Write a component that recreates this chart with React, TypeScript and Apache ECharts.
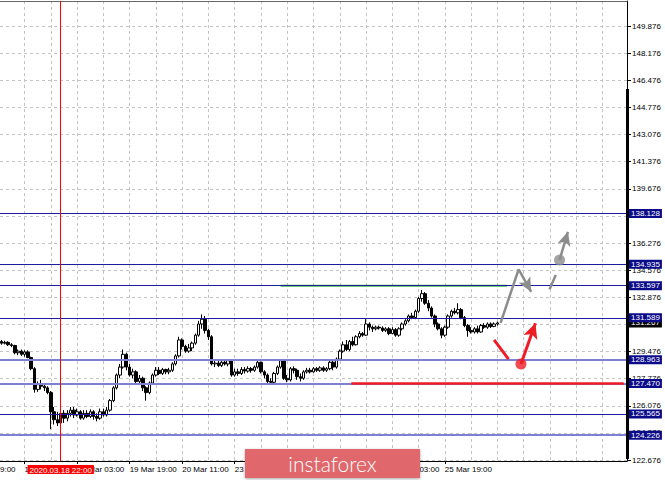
import React, { useEffect, useRef } from "react";
import * as echarts from "echarts";

// ---------- data ----------
const slotCount = 191; // hourly slots across the plot (incl. empty space on the right)
const timeLabels = [
  "18 Mar 11:00", "19 Mar 03:00", "19 Mar 19:00", "20 Mar 11:00", "23 Mar 03:00",
  "23 Mar 19:00", "24 Mar 11:00", "25 Mar 03:00", "25 Mar 19:00",
];
const timeLabelSlots = [7, 23, 39, 55, 71, 87, 103, 119, 135];
const gridSlots = [7, 15, 23, 31, 39, 47, 55, 63, 71, 79, 87, 95, 103, 111, 119, 127, 135, 143, 151, 159, 167, 175, 183];

const priceTicks = [
  122.676, 124.376, 126.076, 127.776, 129.476, 131.176, 132.876, 134.576, 136.276,
  137.976, 139.676, 141.376, 143.076, 144.776, 146.476, 148.176, 149.876,
];
const darkLevels = [138.128, 134.935, 133.597, 131.589, 125.565];
const lightLevels = [128.963, 127.47, 124.226];
const currentPrice = 131.267;
const markerSlot = 18;
const markerText = "2020.03.18 22:00";

// [open, close, low, high]
const candles: number[][] = [
  [130.1, 130.0, 129.9, 130.2], [130.0, 130.05, 129.92, 130.15], [130.05, 129.9, 129.82, 130.12], [129.9, 129.85, 129.75, 130.0],
  [129.85, 129.4, 129.3, 129.9], [129.4, 129.5, 129.25, 129.6], [129.5, 129.3, 129.2, 129.6], [129.3, 129.45, 129.15, 129.55],
  [129.45, 129.1, 129.05, 129.55], [129.1, 128.4, 128.3, 129.15], [128.4, 127.1, 126.9, 128.5], [127.1, 127.4, 126.95, 127.6],
  [127.4, 127.3, 127.1, 127.7], [127.3, 127.2, 127.0, 127.5], [127.2, 126.9, 126.8, 127.3], [126.9, 125.7, 124.6, 127.0],
  [125.7, 125.2, 124.9, 126.0], [125.2, 125.0, 124.8, 125.7], [125.0, 125.6, 124.25, 125.8], [125.6, 125.3, 125.0, 125.8],
  [125.3, 125.6, 125.1, 125.8], [125.6, 125.8, 125.4, 126.0], [125.8, 125.5, 125.3, 126.0], [125.5, 125.7, 125.4, 125.9],
  [125.7, 125.3, 125.2, 125.8], [125.3, 125.6, 125.2, 125.8], [125.6, 125.4, 125.3, 125.8], [125.4, 125.7, 125.3, 125.85],
  [125.7, 125.4, 125.2, 125.8], [125.4, 125.3, 125.1, 125.6], [125.3, 125.7, 125.2, 125.9], [125.7, 125.5, 125.4, 125.9],
  [125.5, 125.8, 125.4, 126.0], [125.8, 126.4, 125.7, 126.5], [126.4, 127.2, 126.3, 127.3], [127.2, 128.0, 127.1, 128.1],
  [128.0, 128.5, 127.8, 128.7], [128.5, 129.3, 128.4, 129.6], [129.3, 128.5, 128.3, 129.4], [128.5, 128.0, 127.9, 128.7],
  [128.0, 128.2, 127.8, 128.4], [128.2, 127.6, 127.5, 128.3], [127.6, 127.8, 127.4, 128.0], [127.8, 127.2, 127.0, 127.9],
  [127.2, 126.9, 126.4, 127.3], [126.9, 127.5, 126.8, 127.6], [127.5, 128.0, 127.4, 128.1], [128.0, 128.3, 127.9, 128.5],
  [128.3, 128.1, 128.0, 128.5], [128.1, 128.35, 128.0, 128.45], [128.35, 128.2, 128.05, 128.4], [128.2, 128.3, 128.05, 128.45],
  [128.3, 128.7, 128.2, 128.8], [128.7, 129.2, 128.6, 129.3], [129.2, 130.2, 129.1, 130.4], [130.2, 129.8, 129.6, 130.3],
  [129.8, 129.5, 129.4, 129.9], [129.5, 129.7, 129.4, 129.95], [129.7, 130.0, 129.5, 130.1], [130.0, 130.5, 129.9, 130.6],
  [130.5, 131.2, 130.4, 131.4], [131.2, 131.5, 130.9, 131.8], [131.5, 130.8, 130.6, 131.7], [130.8, 130.4, 130.2, 130.9],
  [130.4, 128.7, 128.6, 130.5], [128.7, 128.75, 128.5, 128.9], [128.75, 128.6, 128.5, 128.9], [128.6, 128.8, 128.5, 128.9],
  [128.8, 128.7, 128.6, 128.9], [128.7, 128.9, 128.55, 129.0], [128.9, 128.0, 127.9, 128.95], [128.0, 128.2, 127.9, 128.4],
  [128.2, 128.1, 127.95, 128.4], [128.1, 128.35, 128.0, 128.5], [128.35, 128.25, 128.1, 128.5], [128.25, 128.4, 128.15, 128.55],
  [128.4, 128.3, 128.15, 128.5], [128.3, 128.5, 128.2, 128.6], [128.5, 128.8, 128.4, 128.9], [128.8, 128.2, 128.1, 128.85],
  [128.2, 128.0, 127.8, 128.3], [128.0, 127.6, 127.5, 128.1], [127.6, 127.55, 127.4, 127.8], [127.55, 128.1, 127.5, 128.2],
  [128.1, 128.5, 128.0, 128.6], [128.5, 128.9, 128.4, 129.0], [128.9, 127.8, 127.7, 128.95], [127.8, 127.7, 127.55, 128.0],
  [127.7, 128.4, 127.6, 128.5], [128.4, 128.3, 128.1, 128.55], [128.3, 127.9, 127.7, 128.4], [127.9, 127.8, 127.6, 128.1],
  [127.8, 128.2, 127.7, 128.3], [128.2, 128.3, 128.1, 128.45], [128.3, 128.2, 128.1, 128.45], [128.2, 128.4, 128.15, 128.5],
  [128.4, 128.3, 128.2, 128.5], [128.3, 128.45, 128.2, 128.55], [128.45, 128.3, 128.2, 128.55], [128.3, 128.4, 128.2, 128.5],
  [128.4, 128.8, 128.3, 128.9], [128.8, 128.5, 128.3, 128.95], [128.5, 129.0, 128.4, 129.1], [129.0, 129.5, 128.9, 129.6],
  [129.5, 129.9, 129.4, 130.1], [129.9, 129.6, 129.5, 130.2], [129.6, 130.1, 129.5, 130.2], [130.1, 129.9, 129.8, 130.4],
  [129.9, 130.4, 129.85, 130.5], [130.4, 130.6, 130.3, 130.75], [130.6, 130.5, 130.4, 130.7], [130.5, 131.2, 130.45, 131.5],
  [131.2, 131.0, 130.8, 131.3], [131.0, 130.9, 130.7, 131.1], [130.9, 131.0, 130.8, 131.1], [131.0, 130.95, 130.85, 131.1],
  [130.95, 130.8, 130.7, 131.05], [130.8, 130.9, 130.7, 131.0], [130.9, 130.6, 130.5, 131.0], [130.6, 130.85, 130.55, 131.0],
  [130.85, 130.5, 130.4, 130.95], [130.5, 130.9, 130.4, 131.0], [130.9, 131.2, 130.8, 131.3], [131.2, 131.4, 131.1, 131.5],
  [131.4, 131.7, 131.3, 131.8], [131.7, 131.6, 131.5, 131.9], [131.6, 132.0, 131.5, 132.1], [132.0, 132.8, 131.9, 132.9],
  [132.8, 133.1, 132.6, 133.33], [133.1, 132.5, 132.4, 133.2], [132.5, 132.2, 132.0, 132.7], [132.2, 131.7, 131.6, 132.3],
  [131.7, 131.2, 131.0, 131.8], [131.2, 130.9, 130.8, 131.3], [130.9, 130.5, 130.3, 131.0], [130.5, 131.0, 130.4, 131.1],
  [131.0, 131.7, 130.9, 131.8], [131.7, 132.0, 131.6, 132.1], [132.0, 131.9, 131.8, 132.2], [131.9, 132.1, 131.8, 132.5],
  [132.1, 131.6, 131.5, 132.2], [131.6, 131.1, 131.0, 131.7], [131.1, 130.8, 130.4, 131.2], [130.8, 130.7, 130.6, 131.0],
  [130.7, 130.9, 130.6, 131.0], [130.9, 130.7, 130.6, 131.1], [130.7, 131.1, 130.65, 131.2], [131.1, 131.0, 130.9, 131.25],
  [131.0, 131.2, 130.9, 131.3], [131.2, 131.05, 130.95, 131.3], [131.05, 131.2, 131.0, 131.3], [131.2, 131.267, 131.1, 131.35],
];

// forecast drawings: [slot, price]
const greenZone = [[85, 133.597], [154, 133.597]];
const redZone = [[106.5, 127.47], [189.5, 127.47]];
const grayRise = [[152, 131.27], [157.5, 134.63]];
const grayDrop = [[157.5, 134.63], [161.3, 133.22]];
const grayDash = [[166.9, 133.37], [168.8, 134.27]];
const grayUp = [[169.95, 135.21], [172.5, 136.98]];
const grayPivot = [[169.95, 135.21]];
const redDrop = [[150, 130.2], [154.4, 129.0]];
const redUp = [[158.2, 128.69], [162.6, 131.24]];
const redPivot = [[158.2, 128.69]];

const FONT = "Liberation Sans";
const GRAY = "#8c8c8c";
const RED = "#ee1d25";

export default function App() {
  const ref = useRef<HTMLDivElement>(null);
  useEffect(() => {
    if (!ref.current) return;
    const chart = echarts.init(ref.current, null, { renderer: "svg" });
    const categories = Array.from({ length: slotCount }, (_, i) => String(i));
    const levelLabel = (bg: string, v: number) => ({
      show: true,
      position: "end",
      distance: 2,
      color: "#fff",
      backgroundColor: bg,
      padding: [1, 2, 0, 2],
      fontSize: 8,
      fontFamily: FONT,
      formatter: v.toFixed(3),
    });
    const levelData: any[] = [
      { yAxis: currentPrice, lineStyle: { color: "rgba(0,0,0,0)", width: 1 }, label: levelLabel("#000", currentPrice) },
      ...lightLevels.map((v) => ({ yAxis: v, lineStyle: { color: "#7f7fd4", width: 2 }, label: levelLabel("#0b0b8a", v) })),
      ...darkLevels.map((v) => ({ yAxis: v, lineStyle: { color: "#1c1c9c", width: 1 }, label: levelLabel("#0b0b8a", v) })),
      {
        xAxis: markerSlot,
        lineStyle: { color: "#ff0000", width: 1 },
        label: {
          show: true,
          position: "start",
          distance: 4,
          color: "#fff",
          backgroundColor: "#ff0000",
          padding: [1, 2, 0, 2],
          fontSize: 8,
          fontFamily: FONT,
          formatter: markerText,
        },
      },
    ];
    const seg = (pts: number[][], arrow: boolean) => [
      { coord: pts[0], symbol: "none" },
      { coord: pts[1], symbol: arrow ? "arrow" : "none" },
    ];
    const option: any = {
      animation: false,
      backgroundColor: "#fff",
      grid: { left: 0, right: 38, top: 1, bottom: 19, outerBoundsMode: "none" },
      xAxis: [
        {
          type: "category",
          data: categories,
          boundaryGap: true,
          position: "bottom",
          axisLine: { show: true, lineStyle: { color: "#000", width: 1 } },
          axisTick: {
            show: true,
            alignWithLabel: true,
            length: 3,
            interval: (i: number) => timeLabelSlots.includes(i),
            lineStyle: { color: "#000" },
          },
          axisLabel: {
            show: true,
            interval: (i: number) => timeLabelSlots.includes(i),
            formatter: (_v: string, i: number) => timeLabels[timeLabelSlots.indexOf(i)] ?? "",
            align: "left",
            margin: 4,
            fontSize: 8,
            fontFamily: FONT,
            color: "#000",
          },
          splitLine: { show: false },
        },
        {
          type: "value",
          min: -0.5,
          max: slotCount - 0.5,
          position: "top",
          axisLine: { show: true, onZero: false, lineStyle: { color: "#666", width: 1 } },
          axisTick: { show: false, customValues: gridSlots },
          axisLabel: { show: false },
          splitLine: { show: true, lineStyle: { color: "#c4c4c4", type: [3, 3], width: 1 } },
        },
      ],
      yAxis: {
        type: "value",
        position: "right",
        min: 122.614,
        max: 151.443,
        axisLine: { show: true, onZero: false, lineStyle: { color: "#000", width: 1 } },
        axisTick: { show: true, length: 4, customValues: priceTicks, lineStyle: { color: "#000" } },
        axisLabel: {
          show: true,
          customValues: priceTicks,
          margin: 5,
          fontSize: 8,
          fontFamily: FONT,
          color: "#000",
          formatter: (v: number) => Number(v).toFixed(3),
        },
        splitLine: { show: true, lineStyle: { color: "#c4c4c4", type: [3, 3], width: 1 } },
      },
      series: [
        {
          type: "candlestick",
          xAxisIndex: 0,
          data: candles,
          barWidth: 3,
          itemStyle: { color: "#fff", color0: "#000", borderColor: "#000", borderColor0: "#000", borderWidth: 1 },
          z: 3,
        },
        {
          type: "line",
          xAxisIndex: 1,
          data: greenZone,
          symbol: "none",
          clip: false,
          lineStyle: { color: "#3cba3c", width: 2 },
          z: 4,
          markLine: {
            silent: true,
            symbol: "none",
            animation: false,
            lineStyle: { type: "solid" },
            data: levelData,
          },
        },
        {
          type: "line",
          xAxisIndex: 1,
          data: redZone,
          symbol: "none",
          lineStyle: { color: RED, width: 2.5 },
          z: 5,
        },
        {
          type: "line",
          xAxisIndex: 1,
          data: grayRise,
          symbol: "none",
          lineStyle: { color: GRAY, width: 2.5 },
          z: 6,
          markLine: {
            silent: true,
            animation: false,
            symbolSize: [10, 14],
            label: { show: false },
            lineStyle: { color: GRAY, width: 2.5, type: "solid" },
            data: [seg(grayDrop, true), seg(grayDash, false), seg(grayUp, true)],
          },
        },
        {
          type: "line",
          xAxisIndex: 1,
          data: redDrop,
          symbol: "none",
          lineStyle: { color: RED, width: 3 },
          z: 6,
          markLine: {
            silent: true,
            animation: false,
            symbolSize: [11, 15],
            label: { show: false },
            lineStyle: { color: RED, width: 3, type: "solid" },
            data: [seg(redUp, true)],
          },
        },
        {
          type: "scatter",
          xAxisIndex: 1,
          data: grayPivot,
          symbol: "circle",
          symbolSize: 11,
          itemStyle: { color: GRAY },
          z: 7,
        },
        {
          type: "scatter",
          xAxisIndex: 1,
          data: redPivot,
          symbol: "circle",
          symbolSize: 11,
          itemStyle: { color: RED },
          z: 7,
        },
      ],
      graphic: [
        { type: "rect", z: 50, shape: { x: 626, y: 89, width: 3, height: 370 }, style: { fill: "#000" } },
        {
          type: "text",
          z: 50,
          x: 0,
          y: 465,
          style: { text: "9:00", fontSize: 8, fontFamily: FONT, fill: "#000", textVerticalAlign: "top" },
        },
        {
          type: "rect",
          z: 100,
          zlevel: 0,
          shape: { x: 245, y: 449, width: 175, height: 29 },
          style: { fill: "#e0686c", shadowBlur: 3, shadowColor: "rgba(0,0,0,0.35)", shadowOffsetY: 1 },
        },
        {
          type: "text",
          z: 101,
          x: 332.5,
          y: 463,
          style: {
            text: "instaforex",
            fill: "#fff",
            fontSize: 21,
            fontFamily: "Lato",
            fontWeight: 300,
            textAlign: "center",
            textVerticalAlign: "middle",
          },
        },
      ],
    };
    chart.setOption(option);
    return () => chart.dispose();
  }, []);
  return (
    <div
      ref={ref}
      style={{ position: "fixed", left: 0, top: 0, width: 665, height: 480, background: "#fff" }}
    />
  );
}
